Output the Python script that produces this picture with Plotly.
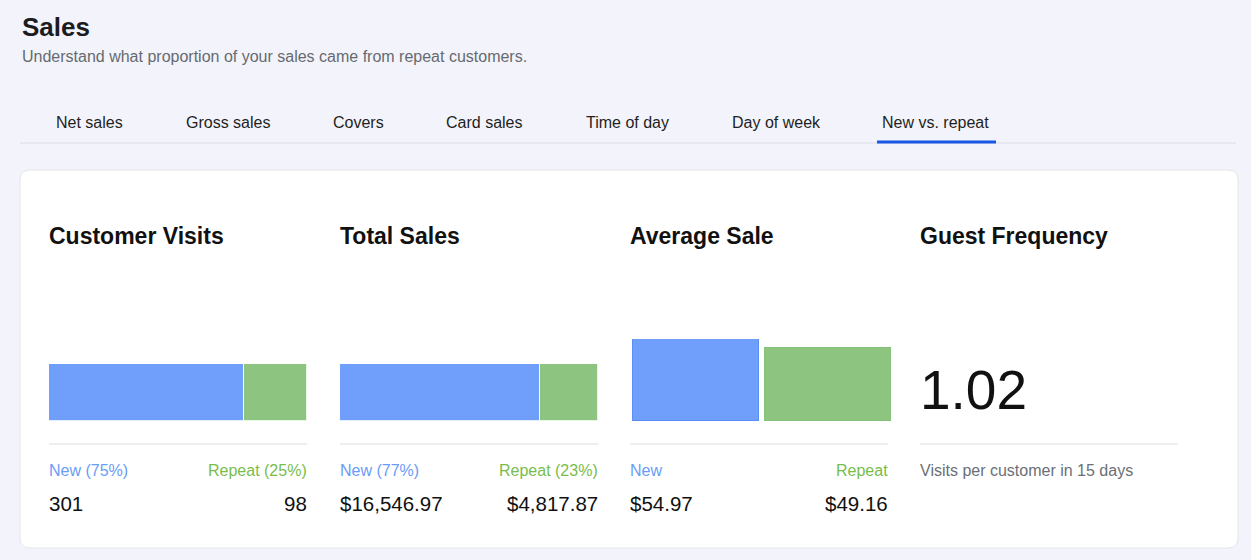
import re
import plotly.graph_objects as go

# Dados do painel "New vs. repeat"
tabs = ['Net sales', 'Gross sales', 'Covers', 'Card sales', 'Time of day', 'Day of week', 'New vs. repeat']
tab_x = [56, 186, 333, 446, 586, 732, 882]
active_tab = 'New vs. repeat'

segments = ['New', 'Repeat']
visits = [301, 98]
sales = [16546.97, 4817.87]
avg_sale = [54.97, 49.16]
guest_frequency = 1.02
frequency_days = 15

W, H = 1251, 560
FONT = 'Liberation Sans, Arial, Helvetica, sans-serif'
BLUE = '#6f9efb'
GREEN = '#8dc580'
BLUE_TXT = '#6a9cf7'
GREEN_TXT = '#78bd4c'
BG = '#f3f4fb'


def px(x):
    return x / W


def py(y):
    return 1 - y / H


fig = go.Figure()

# barras empilhadas: visitas e vendas
for i, name in enumerate(segments):
    col = BLUE if i == 0 else GREEN
    fig.add_trace(go.Bar(
        x=[visits[i]], y=['v'], orientation='h', width=1,
        marker=dict(color=col, line=dict(color='rgba(255,255,255,0.8)', width=1)),
        xaxis='x', yaxis='y', showlegend=False, name=name,
        hovertemplate=name + ': %{x}<extra></extra>'
    ))
    fig.add_trace(go.Bar(
        x=[sales[i]], y=['s'], orientation='h', width=1,
        marker=dict(color=col, line=dict(color='rgba(255,255,255,0.8)', width=1)),
        xaxis='x2', yaxis='y2', showlegend=False, name=name,
        hovertemplate=name + ': $%{x:,.2f}<extra></extra>'
    ))

# barras verticais: venda média
fig.add_trace(go.Bar(
    x=segments, y=avg_sale, width=0.955,
    marker=dict(color=[BLUE, GREEN], line=dict(color=['#5b8ff5', '#86c27a'], width=1)),
    xaxis='x3', yaxis='y3', showlegend=False,
    hovertemplate='%{x}: $%{y:.2f}<extra></extra>'
))

hidden = dict(visible=False, showgrid=False, zeroline=False, fixedrange=True)

fig.update_layout(
    width=W, height=H,
    margin=dict(l=0, r=0, t=0, b=0),
    paper_bgcolor=BG, plot_bgcolor='rgba(0,0,0,0)',
    barmode='stack',
    bargap=0,
    font=dict(family=FONT, color='#111'),
    xaxis=dict(domain=[px(49), px(307)], range=[0, sum(visits)], anchor='y', **hidden),
    yaxis=dict(domain=[py(421), py(364)], range=[-0.5, 0.5], anchor='x', **hidden),
    xaxis2=dict(domain=[px(340), px(598)], range=[0, sum(sales)], anchor='y2', **hidden),
    yaxis2=dict(domain=[py(421), py(364)], range=[-0.5, 0.5], anchor='x2', **hidden),
    xaxis3=dict(domain=[px(630), px(894)], range=[-0.5, 1.5], anchor='y3', **hidden),
    yaxis3=dict(domain=[py(421), py(339)], range=[0, max(avg_sale)], anchor='x3', **hidden),
)

shapes = []
# linha das abas
shapes.append(dict(type='line', xref='paper', yref='paper', x0=px(20), x1=px(1236),
                   y0=py(143), y1=py(143), line=dict(color='#e3e5ee', width=1.5)))
ai = tabs.index(active_tab)
shapes.append(dict(type='line', xref='paper', yref='paper', x0=px(tab_x[ai] - 5), x1=px(996),
                   y0=py(142), y1=py(142), line=dict(color='#1a57e6', width=3)))

# cartão branco com cantos arredondados
x0, x1, y0, y1, r = 20, 1238, 170, 548, 10
path = (f'M {x0 + r},{y0} L {x1 - r},{y0} Q {x1},{y0} {x1},{y0 + r} '
        f'L {x1},{y1 - r} Q {x1},{y1} {x1 - r},{y1} L {x0 + r},{y1} '
        f'Q {x0},{y1} {x0},{y1 - r} L {x0},{y0 + r} Q {x0},{y0} {x0 + r},{y0} Z')


def conv(m):
    a, b = float(m.group(1)), float(m.group(2))
    return f'{px(a):.5f},{py(b):.5f}'


path = re.sub(r'(-?\d+\.?\d*),(-?\d+\.?\d*)', conv, path)
shapes.insert(0, dict(type='path', xref='paper', yref='paper', path=path,
                      fillcolor='white', line=dict(color='#e4e5eb', width=1), layer='below'))

# linhas separadoras
for sx in [49, 340, 630, 920]:
    shapes.append(dict(type='line', xref='paper', yref='paper', x0=px(sx), x1=px(sx + 258),
                       y0=py(444), y1=py(444), line=dict(color='#dcdde3', width=1)))
fig.update_layout(shapes=shapes)

ann = []


def text(x, y, s, size, color='#111', anchor='left', bold=False):
    ann.append(dict(x=px(x), y=py(y), xref='paper', yref='paper', text=f'<b>{s}</b>' if bold else s,
                    showarrow=False, xanchor=anchor, yanchor='middle',
                    font=dict(size=size, color=color, family=FONT)))


text(20, 27, 'Sales', 26, '#1c1c1e', bold=True)
text(20, 57, 'Understand what proportion of your sales came from repeat customers.', 16, '#666a70')

for t, tx in zip(tabs, tab_x):
    text(tx - 2, 122, t, 16, '#1f1f22')

text(47, 236, 'Customer Visits', 23, '#111', bold=True)
text(338, 236, 'Total Sales', 23, '#111', bold=True)
text(628, 236, 'Average Sale', 23, '#111', bold=True)
text(918, 236, 'Guest Frequency', 23, '#111', bold=True)

vis_pct = [round(v / sum(visits) * 100) for v in visits]
sal_pct = [round(v / sum(sales) * 100) for v in sales]

text(47, 470, f'{segments[0]} ({vis_pct[0]}%)', 16, BLUE_TXT)
text(309, 470, f'{segments[1]} ({vis_pct[1]}%)', 16, GREEN_TXT, anchor='right')
text(47, 503, f'{visits[0]}', 20.5)
text(309, 503, f'{visits[1]}', 20.5, anchor='right')

text(338, 470, f'{segments[0]} ({sal_pct[0]}%)', 16, BLUE_TXT)
text(600, 470, f'{segments[1]} ({sal_pct[1]}%)', 16, GREEN_TXT, anchor='right')
text(338, 503, f'${sales[0]:,.2f}', 20.5)
text(600, 503, f'${sales[1]:,.2f}', 20.5, anchor='right')

text(628, 470, segments[0], 16, BLUE_TXT)
text(890, 470, segments[1], 16, GREEN_TXT, anchor='right')
text(628, 503, f'${avg_sale[0]:,.2f}', 20.5)
text(890, 503, f'${avg_sale[1]:,.2f}', 20.5, anchor='right')

text(918, 390, f'{guest_frequency:.2f}', 55, '#111')
text(918, 470, f'Visits per customer in {frequency_days} days', 16, '#6b6f76')

fig.update_layout(annotations=ann)

fig.write_html('out.html', config={'displayModeBar': False},
               post_script="document.body.style.margin='0';")
